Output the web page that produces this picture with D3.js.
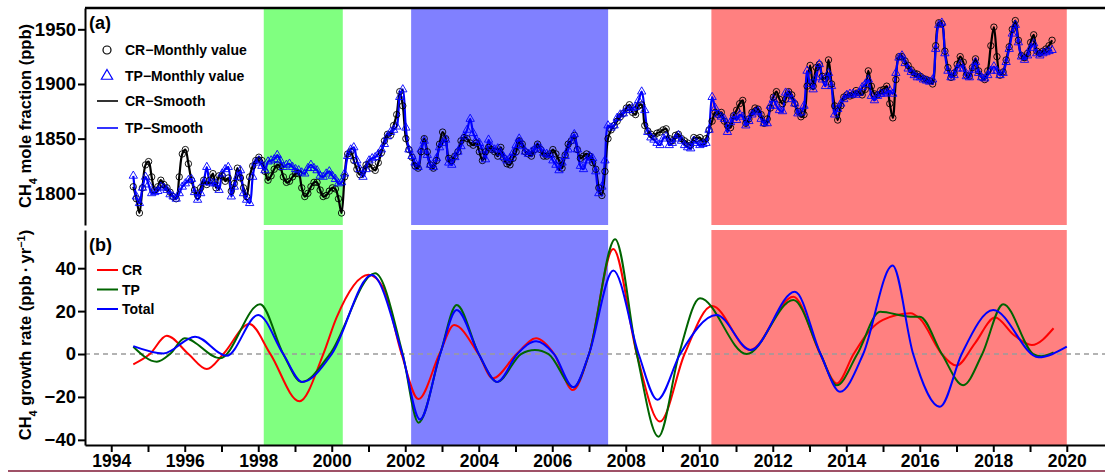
<!DOCTYPE html>
<meta charset="utf-8">
<style>
  body { margin: 0; background: #fff; }
  text { font-family: "Liberation Sans", Arial, sans-serif; font-weight: bold; }
  .axis path, .axis line { stroke: #000; stroke-width: 2px; }
  .axis text { fill: #000; }
  .axis.yax text { font-size: 18.5px; }
  .axis.xax text { font-size: 17.5px; }
</style>
<body>
<script src="https://cdn.jsdelivr.net/npm/d3@7/dist/d3.min.js"></script>
<script>
  // first monthly value is Aug 1994, one value per month
  var startYear = 1994.6;

  var crMonthly = [
    1806, 1795, 1782, 1805, 1826,
    1829, 1815, 1803, 1806, 1812, 1808, 1805, 1801, 1797, 1795, 1815, 1836,
    1840, 1827, 1812, 1803, 1798, 1805, 1812, 1808, 1812, 1818, 1805, 1816,
    1816, 1811, 1814, 1802, 1809, 1823, 1814, 1805, 1797, 1815, 1825, 1830,
    1833, 1830, 1820, 1812, 1816, 1822, 1826, 1824, 1815, 1810, 1811, 1815,
    1818, 1818, 1805, 1797, 1800, 1806, 1810, 1810, 1803, 1797, 1798, 1802,
    1805, 1804, 1795, 1782, 1815, 1836, 1838, 1830, 1822, 1817, 1821, 1826,
    1827, 1823, 1821, 1828, 1837, 1848, 1854, 1853, 1862, 1872, 1893, 1880,
    1850, 1840, 1833, 1825, 1823, 1838, 1850, 1838, 1826, 1823, 1830, 1845,
    1856, 1850, 1832, 1830, 1834, 1838, 1848, 1851, 1850, 1846, 1844, 1846,
    1838, 1830, 1838, 1842, 1840, 1838, 1834, 1842, 1832, 1827, 1826, 1832,
    1838, 1848, 1845, 1838, 1836, 1834, 1840, 1845, 1840, 1834, 1834, 1836,
    1840, 1836, 1830, 1823, 1835, 1845, 1848, 1853, 1840, 1832, 1834, 1836,
    1834, 1828, 1822, 1805, 1798, 1820, 1850, 1858, 1862, 1866, 1870, 1873,
    1878, 1881, 1874, 1872, 1880, 1881, 1862, 1857, 1854, 1852, 1855, 1856,
    1858, 1859, 1850, 1848, 1853, 1854, 1850, 1848, 1846, 1844, 1851, 1850,
    1851, 1847, 1850, 1858, 1866, 1874, 1872, 1874, 1866, 1862, 1860, 1871,
    1876, 1882, 1885, 1864, 1868, 1874, 1878, 1877, 1872, 1864, 1868, 1878,
    1888, 1893, 1886, 1882, 1886, 1893, 1890, 1882, 1875, 1870, 1872, 1898,
    1917, 1898, 1915, 1918, 1907, 1905, 1922, 1900, 1880, 1867, 1880, 1888,
    1890, 1889, 1890, 1894, 1892, 1890, 1895, 1912, 1898, 1891, 1890, 1894,
    1895, 1898, 1882, 1869, 1904, 1925, 1925, 1921, 1917, 1913, 1910, 1909,
    1907, 1905, 1904, 1903, 1900, 1935, 1956, 1955, 1930, 1915, 1906, 1910,
    1918, 1925, 1920, 1908, 1907, 1915, 1923, 1912, 1906, 1904, 1912, 1935,
    1952, 1925, 1908, 1911, 1922, 1934, 1950, 1958, 1940, 1926, 1924, 1928,
    1938, 1945, 1930, 1928, 1930, 1932, 1935, 1940
  ];

  var tpMonthly = [
    1816, 1797, 1791, 1805, 1815,
    1808, 1800, 1801, 1802, 1806, 1805, 1803, 1799, 1797, 1795, 1800, 1806,
    1809, 1812, 1813, 1801, 1794, 1800, 1810, 1824, 1810, 1809, 1809, 1803,
    1818, 1822, 1824, 1797, 1806, 1815, 1821, 1800, 1794, 1791, 1815, 1828,
    1830, 1825, 1821, 1829, 1830, 1831, 1835, 1830, 1824, 1826, 1827, 1824,
    1822, 1821, 1819, 1818, 1823, 1826, 1823, 1821, 1816, 1815, 1818, 1820,
    1816, 1813, 1809, 1810, 1818, 1834, 1840, 1842, 1830, 1822, 1815, 1822,
    1830, 1832, 1833, 1836, 1840, 1845, 1852, 1856, 1858, 1861, 1888, 1895,
    1860, 1840, 1834, 1828, 1824, 1840, 1848, 1835, 1826, 1824, 1832, 1842,
    1846, 1849, 1828, 1826, 1833, 1838, 1843, 1852, 1858, 1868, 1855, 1849,
    1846, 1840, 1831, 1849, 1842, 1840, 1841, 1837, 1833, 1830, 1832, 1837,
    1844, 1850, 1843, 1838, 1836, 1838, 1840, 1843, 1841, 1837, 1836, 1835,
    1830, 1826, 1821, 1828, 1834, 1840, 1848, 1854, 1840, 1825, 1822, 1830,
    1834, 1832, 1820, 1800, 1806, 1830, 1862, 1860, 1862, 1869, 1872, 1873,
    1876, 1876, 1878, 1879, 1885, 1893, 1876, 1856, 1851, 1849, 1846, 1844,
    1850, 1852, 1844, 1846, 1850, 1853, 1848, 1844, 1842, 1841, 1848, 1846,
    1844, 1845, 1846, 1858, 1888, 1878, 1872, 1870, 1868, 1856, 1865, 1870,
    1867, 1872, 1870, 1862, 1866, 1872, 1874, 1875, 1868, 1864, 1864, 1880,
    1886, 1880, 1876, 1875, 1892, 1891, 1886, 1882, 1873, 1874, 1880, 1912,
    1900, 1895, 1906, 1918, 1904, 1898, 1910, 1898, 1872, 1877, 1882, 1886,
    1890, 1891, 1891, 1890, 1892, 1897, 1900, 1904, 1889, 1885, 1889, 1891,
    1891, 1892, 1894, 1891, 1910, 1924, 1926, 1919, 1914, 1911, 1908, 1906,
    1906, 1904, 1903, 1902, 1904, 1932, 1954, 1956, 1928, 1912, 1906, 1908,
    1914, 1918, 1914, 1907, 1906, 1913, 1920, 1910, 1906, 1905, 1908, 1912,
    1916, 1912, 1908, 1910, 1920, 1932, 1946, 1954, 1938, 1925, 1922, 1926,
    1933, 1937, 1928, 1926, 1928, 1929, 1930, 1931
  ];

  // growth rate, [year, ppb/yr] read at turning points and zero crossings
  var crGrowth = [[1994.6,-4.8],[1995.05,0],[1995.51,8.5],[1996.1,0],[1996.6,-7],[1997.05,0],[1997.76,14],
    [1998.32,0.3],[1999.12,-22],[1999.77,0],[2000.13,17],[2001.0,37],[2001.4,31],[2001.9,0],[2002.36,-21],
    [2002.93,0],[2003.33,13.5],[2003.99,0],[2004.38,-11.3],[2005.03,0],[2005.56,7.3],[2006.05,0],[2006.56,-16.8],
    [2007.0,0],[2007.66,49],[2008.3,0],[2008.93,-31.5],[2009.6,0],[2010.35,22.4],[2011.38,1.9],[2012.56,26.7],
    [2013.29,0],[2013.74,-13.7],[2014.2,0],[2014.65,11.2],[2015.0,15.9],[2015.75,19],[2016.0,16.5],[2016.6,0],
    [2017.0,-5.4],[2017.5,5],[2018.05,17],[2018.55,9],[2019.05,4.2],[2019.64,12]];

  var tpGrowth = [[1994.6,3.4],[1995.24,-3.6],[1995.6,0],[1996.0,7.3],[1996.96,-2],[1998.05,23.2],[1998.68,0],
    [1999.18,-13],[1999.95,0],[2001.18,37.6],[2001.93,0],[2002.36,-32],[2002.95,0],[2003.4,22.8],[2004.0,0],
    [2004.5,-13],[2005.15,0],[2005.53,1.9],[2005.9,0],[2006.58,-15.5],[2007.0,0],[2007.71,53.5],[2008.3,0],
    [2008.89,-38.5],[2009.45,0],[2010.02,26],[2011.29,0],[2012.56,25.2],[2013.3,0],[2013.74,-14.6],[2014.3,0],
    [2014.92,19.7],[2015.75,17.4],[2016.0,17.4],[2016.6,0],[2017.18,-14.5],[2017.7,0],[2018.27,23.2],
    [2019.09,0],[2019.3,-1],[2019.64,0.8]];

  var totalGrowth = [[1994.6,3.7],[1995.42,0.3],[1996.28,8.1],[1997.14,-0.8],[1998.0,18.2],[1998.68,0],
    [1999.2,-13],[2000.0,0],[2001.09,36.8],[2001.92,0],[2002.4,-30.5],[2002.95,0],[2003.4,20.5],[2004.0,0],
    [2004.5,-13],[2005.05,0],[2005.56,6],[2006.05,0],[2006.58,-15.5],[2007.0,0],[2007.66,38.9],[2008.35,0],
    [2008.86,-21.3],[2009.48,0],[2010.47,18.2],[2011.4,1.9],[2012.6,29],[2013.3,0],[2013.83,-17.6],[2014.46,0],
    [2015.26,41.2],[2015.82,0],[2016.55,-24.6],[2017.14,0],[2018.0,20.5],[2019.23,-1.5],[2020.0,3.4]];

  // shaded periods
  var periodStart = [1998.15, 2002.16, 2010.33];
  var periodEnd = [2000.3, 2007.52, 2020.0];
  var periodColor = ["#80ff80", "#8080ff", "#ff8080"];

  var yTicksA = [1800, 1850, 1900, 1950];
  var yTicksB = [-40, -20, 0, 20, 40];

  var W = 1105, H = 472;
  var svg = d3.select("body").append("svg")
    .attr("width", W)
    .attr("height", H);

  var x = d3.scaleLinear().domain([1993.286, 2021.04]).range([85, 1105]);
  var yA = d3.scaleLinear().domain([1771, 1969.5]).range([225, 8]);
  var yB = d3.scaleLinear().domain([-42.4, 57.8]).range([445, 230]);

  // shading in both panels
  periodStart.forEach(function(s, i) {
    svg.append("rect")
      .attr("x", x(s)).attr("width", x(periodEnd[i]) - x(s))
      .attr("y", 9).attr("height", 216)
      .attr("fill", periodColor[i]);
    svg.append("rect")
      .attr("x", x(s)).attr("width", x(periodEnd[i]) - x(s))
      .attr("y", 230).attr("height", 215)
      .attr("fill", periodColor[i]);
  });

  // ---- panel (a)
  var crPts = crMonthly.map(function(v, i) { return [startYear + i / 12, v]; });
  var tpPts = tpMonthly.map(function(v, i) { return [startYear + i / 12, v]; });

  var smooth = d3.line()
    .x(function(d) { return x(d[0]); })
    .y(function(d) { return yA(d[1]); })
    .curve(d3.curveCatmullRom.alpha(0.5));

  svg.append("path").datum(crPts)
    .attr("d", smooth).attr("fill", "none")
    .attr("stroke", "#000").attr("stroke-width", 2.2);

  svg.append("path").datum(tpPts)
    .attr("d", smooth).attr("fill", "none")
    .attr("stroke", "#0000ff").attr("stroke-width", 2.2);

  svg.append("g").selectAll("circle")
    .data(crPts).enter().append("circle")
    .attr("cx", function(d) { return x(d[0]); })
    .attr("cy", function(d) { return yA(d[1]); })
    .attr("r", 3.2)
    .attr("fill", "none").attr("stroke", "#000").attr("stroke-width", 0.9);

  var tri = d3.symbol().type(d3.symbolTriangle).size(30);
  svg.append("g").selectAll("path")
    .data(tpPts).enter().append("path")
    .attr("d", tri)
    .attr("transform", function(d) { return "translate(" + x(d[0]) + "," + yA(d[1]) + ")"; })
    .attr("fill", "none").attr("stroke", "#0000ff").attr("stroke-width", 0.9);

  // ---- panel (b)
  svg.append("line")
    .attr("x1", 85).attr("x2", W)
    .attr("y1", yB(0)).attr("y2", yB(0))
    .attr("stroke", "#9a9a9a").attr("stroke-width", 1.6)
    .attr("stroke-dasharray", "5,4");

  var growthLine = d3.line()
    .x(function(d) { return x(d[0]); })
    .y(function(d) { return yB(d[1]); })
    .curve(d3.curveMonotoneX);

  [[crGrowth, "#ff0000"], [tpGrowth, "#006400"], [totalGrowth, "#0000ff"]].forEach(function(s) {
    svg.append("path").datum(s[0])
      .attr("d", growthLine).attr("fill", "none")
      .attr("stroke", s[1]).attr("stroke-width", 2);
  });

  // ---- axes
  svg.append("g").attr("class", "axis yax")
    .attr("transform", "translate(85,0)")
    .call(d3.axisLeft(yA).tickValues(yTicksA).tickSize(7).tickSizeOuter(0).tickPadding(2)
      .tickFormat(d3.format("d")));

  svg.append("g").attr("class", "axis yax")
    .attr("transform", "translate(85,0)")
    .call(d3.axisLeft(yB).tickValues(yTicksB).tickSize(7).tickSizeOuter(0).tickPadding(2)
      .tickFormat(function(d) { return d < 0 ? "\u2212" + Math.abs(d) : d; }));

  svg.append("g").attr("class", "axis xax")
    .attr("transform", "translate(0,445)")
    .call(d3.axisBottom(x).tickValues(d3.range(1994, 2021)).tickSize(7).tickSizeOuter(0).tickPadding(3)
      .tickFormat(function(d) { return d % 2 == 0 ? d : ""; }));

  svg.append("line")
    .attr("x1", 85).attr("x2", W).attr("y1", 8).attr("y2", 8)
    .attr("stroke", "#000").attr("stroke-width", 2.5);

  // crop edge seen at the bottom of the picture
  svg.append("line")
    .attr("x1", 8).attr("x2", W).attr("y1", 471).attr("y2", 471)
    .attr("stroke", "#7f1734").attr("stroke-width", 1.5);

  // ---- panel labels and titles
  svg.append("text").attr("x", 89).attr("y", 29).style("font-size", "18px").text("(a)");
  svg.append("text").attr("x", 89).attr("y", 251).style("font-size", "18px").text("(b)");

  var t1 = svg.append("text")
    .attr("transform", "translate(31,116) rotate(-90)")
    .attr("text-anchor", "middle").style("font-size", "16.5px");
  t1.append("tspan").text("CH");
  t1.append("tspan").attr("baseline-shift", "sub").style("font-size", "11px").text("4");
  t1.append("tspan").text(" mole fraction (ppb)");

  var t2 = svg.append("text")
    .attr("transform", "translate(31,335) rotate(-90)")
    .attr("text-anchor", "middle").style("font-size", "16.5px");
  t2.append("tspan").text("CH");
  t2.append("tspan").attr("baseline-shift", "sub").style("font-size", "11px").text("4");
  t2.append("tspan").text(" growth rate (ppb\u2009\u00b7\u2009yr");
  t2.append("tspan").attr("baseline-shift", "super").style("font-size", "11px").text("\u22121");
  t2.append("tspan").text(")");

  // ---- legend (a)
  var legA = [
    { label: "CR\u2212Monthly value", kind: "circle", color: "#000" },
    { label: "TP\u2212Monthly value", kind: "triangle", color: "#0000ff" },
    { label: "CR\u2212Smooth", kind: "line", color: "#000" },
    { label: "TP\u2212Smooth", kind: "line", color: "#0000ff" }
  ];
  var legAy = [50, 76, 101, 128];
  legA.forEach(function(d, i) {
    var yy = legAy[i];
    if (d.kind == "circle") {
      svg.append("circle").attr("cx", 107).attr("cy", yy).attr("r", 4)
        .attr("fill", "none").attr("stroke", d.color).attr("stroke-width", 1.2);
    } else if (d.kind == "triangle") {
      svg.append("path").attr("d", d3.symbol().type(d3.symbolTriangle).size(55))
        .attr("transform", "translate(107," + yy + ")")
        .attr("fill", "none").attr("stroke", d.color).attr("stroke-width", 1.2);
    } else {
      svg.append("line").attr("x1", 97).attr("x2", 118).attr("y1", yy).attr("y2", yy)
        .attr("stroke", d.color).attr("stroke-width", 1.6);
    }
    svg.append("text").attr("x", 125).attr("y", yy + 5).style("font-size", "14px").text(d.label);
  });

  // ---- legend (b)
  var legB = [["CR", "#ff0000"], ["TP", "#006400"], ["Total", "#0000ff"]];
  var legBy = [270, 289.5, 309];
  legB.forEach(function(d, i) {
    svg.append("line").attr("x1", 97).attr("x2", 118).attr("y1", legBy[i]).attr("y2", legBy[i])
      .attr("stroke", d[1]).attr("stroke-width", 2);
    svg.append("text").attr("x", 122).attr("y", legBy[i] + 5).style("font-size", "14px").text(d[0]);
  });
</script>
</body>
